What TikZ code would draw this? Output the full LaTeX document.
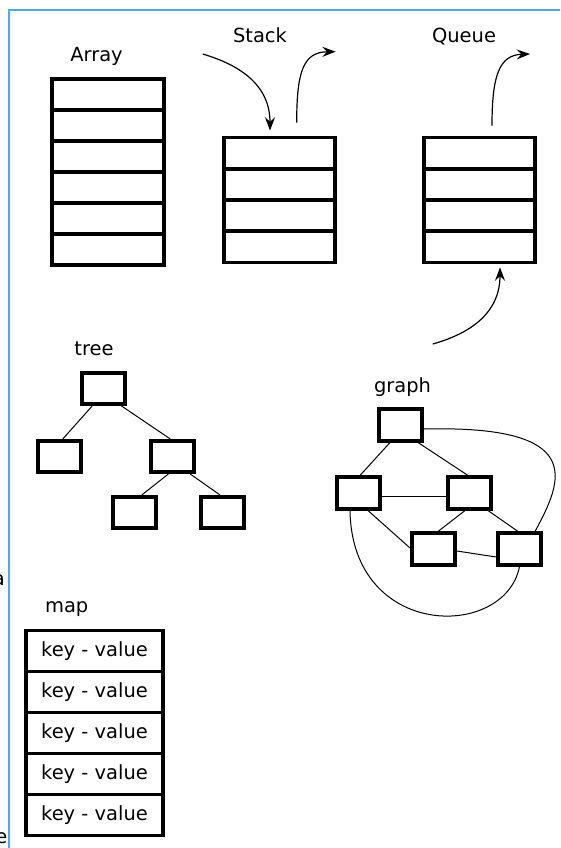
\documentclass[tikz,border=0pt]{standalone}
\usepackage{fontspec}
\setmainfont{DejaVu Sans}
\usetikzlibrary{arrows.meta,calc}
\definecolor{frameblue}{RGB}{77,166,255}
\begin{document}
\begin{tikzpicture}[x=0.75pt,y=-0.75pt,
  every node/.style={font=\fontsize{14.6}{17}\selectfont},
  arrcell/.style={draw,line width=2.9pt,inner sep=0pt,minimum width=83.8pt,minimum height=23.3pt},
  stkcell/.style={draw,line width=2.9pt,inner sep=0pt,minimum width=83pt,minimum height=23.4pt},
  vbox/.style={draw,line width=2.9pt,inner sep=0pt,minimum width=32.3pt,minimum height=23.4pt},
  mapcell/.style={draw,line width=2.9pt,inner sep=0pt,minimum width=103.2pt,minimum height=30.75pt},
  title/.style={anchor=base},
  edge/.style={line width=0.75pt},
  flow/.style={line width=0.9pt,-{Stealth[length=10pt,width=7.5pt,inset=3.5pt]}}]
\useasboundingbox (0,0) rectangle (560,848);

% page frame
\draw[frameblue,line width=1.2pt] (9,848) -- (9,10) -- (560,10);

% clipped letters running in from the left margin
\begin{scope}
  \clip (0,0) rectangle (9,848);
  \node[anchor=base east,inner sep=0pt] (strayA) at (5,585) {a};
  \node[anchor=base east,inner sep=0pt] (strayE) at (7.5,843) {e};
  \node[anchor=base east,inner sep=0pt] (strayDot) at (2,245) {.};
\end{scope}

% ---------- Array ----------
\node[title] (arrayT) at (96.5,62) {Array};
\foreach \k/\y in {1/94.25,2/125.35,3/156.45,4/187.55,5/218.65,6/249.75}
  \node[arrcell] (a\k) at (108.2,\y) {};

% ---------- Stack ----------
\node[title] (stackT) at (260,42.5) {Stack};
\foreach \k/\y in {1/153.1,2/184.4,3/215.6,4/246.9}
  \node[stkcell] (s\k) at (279.7,\y) {};
\coordinate (sin) at (202.7,54);
\coordinate (sout) at (335.7,51.7);
\draw[flow] (sin) .. controls (240,65) and (270,85) .. ($(s1.north)+(-9.7,-5)$);
\draw[flow] ($(s1.north)+(17,-13)$) .. controls (296.7,72) and (303,52) .. (sout);

% ---------- Queue ----------
\node[title] (queueT) at (464,42.5) {Queue};
\foreach \k/\y in {1/153.1,2/184.4,3/215.6,4/246.9}
  \node[stkcell] (q\k) at (479.3,\y) {};
\coordinate (qout) at (530,54);
\coordinate (qin) at (432.7,344);
\draw[flow] ($(q1.north)+(12.7,-10)$) .. controls (492,76) and (499,55) .. (qout);
\draw[flow] (qin) .. controls (472,333) and (500,312) .. ($(q4.south)+(20.7,3)$);

% ---------- tree ----------
\node[title] (treeT) at (94,355) {tree};
\node[vbox] (root) at (103.3,388.3) {};
\node[vbox] (tl) at (59.8,456.5) {};
\node[vbox] (tr) at (172.3,456.5) {};
\node[vbox] (trl) at (134.8,512.5) {};
\node[vbox] (trr) at (222.5,512.5) {};
\draw[edge] ($(root.south)+(-11,0)$) -- ($(tl.north)+(3,0)$);
\draw[edge] ($(root.south)+(18,0)$) -- ($(tr.north)+(-2,0)$);
\draw[edge] ($(tr.south)+(-4,0)$) -- ($(trl.north)+(7,0)$);
\draw[edge] ($(tr.south)+(18,0)$) -- ($(trr.north)+(-2.5,0)$);

% ---------- graph ----------
\node[title] (graphT) at (402.5,392) {graph};
\node[vbox] (gt) at (400.5,425) {};
\node[vbox] (gml) at (358.5,493) {};
\node[vbox] (gmr) at (469.5,493) {};
\node[vbox] (gbl) at (433.5,549) {};
\node[vbox] (gbr) at (519.5,549) {};
\draw[edge] ($(gt.south)+(-10.5,0)$) -- ($(gml.north)+(1.5,0)$);
\draw[edge] ($(gt.south)+(17.5,0)$) -- ($(gmr.north)+(-1.5,0)$);
\draw[edge] ($(gml.east)+(0,3)$) -- ($(gmr.west)+(0,3)$);
\draw[edge] ($(gml.south)+(9.5,0)$) -- ($(gbl.west)+(0,-1)$);
\draw[edge] ($(gmr.south)+(-4.5,0)$) -- ($(gbl.north)+(4.5,0)$);
\draw[edge] ($(gmr.south)+(18.5,0)$) -- ($(gbr.north)+(-1.5,0)$);
\draw[edge] ($(gbl.east)+(0,2)$) -- ($(gbr.west)+(0,8)$);
\draw[edge] ($(gt.east)+(0,4)$) .. controls (587,425) and (563,480) .. ($(gbr.north)+(15.5,0)$);
\draw[edge] ($(gml.south)+(-8.5,0)$) .. controls (352,640) and (505,640) .. (gbr.south);

% ---------- map ----------
\node[title] (mapT) at (66.7,612.7) {map};
\foreach \k/\y in {1/651,2/692,3/733,4/774,5/815}
  \node[mapcell] (m\k) at (94.5,\y) {key - value};
\end{tikzpicture}
\end{document}
